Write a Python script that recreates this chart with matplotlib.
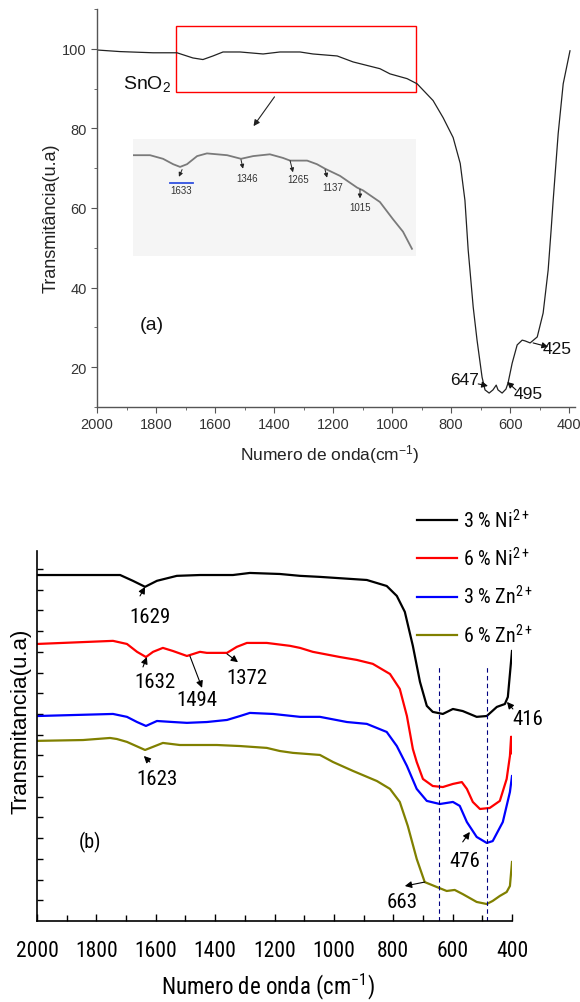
import matplotlib
matplotlib.use('Agg')
import matplotlib.pyplot as plt
from matplotlib.ticker import MultipleLocator
from matplotlib.patches import Rectangle

plt.rcParams['font.family'] = ['Liberation Sans', 'DejaVu Sans']
plt.rcParams['mathtext.fontset'] = 'custom'
plt.rcParams['mathtext.rm'] = 'Liberation Sans'
plt.rcParams['mathtext.it'] = 'Liberation Sans:italic'
plt.rcParams['mathtext.default'] = 'regular'

NARROW = ['Roboto Condensed', 'Liberation Sans', 'DejaVu Sans']

# ---- (a) SnO2 spectrum
wn_a = [2000, 1922, 1810, 1729, 1675, 1641, 1607, 1573, 1515, 1437, 1380, 1312, 1268,
        1186, 1132, 1041, 1007, 949, 915, 861, 827, 793, 769, 753, 742, 736, 725, 712,
        695, 685, 671, 658, 647, 641, 627, 614, 607, 593, 576, 559, 549, 532, 508, 488,
        471, 461, 454, 437, 420, 397]
t_a = [99.7, 99.3, 99.0, 99.0, 97.7, 97.3, 98.2, 99.2, 99.2, 98.7, 99.2, 99.2, 98.7,
       98.2, 96.7, 95.0, 93.7, 92.5, 91.2, 87.0, 82.7, 77.7, 71.2, 61.9, 49.4, 44.4, 35.1,
       26.8, 17.5, 14.3, 13.5, 14.3, 15.5, 14.3, 13.5, 14.5, 16.0, 21.0, 25.6, 26.8, 26.6,
       26.1, 27.6, 33.6, 44.4, 54.4, 61.9, 78.7, 91.2, 99.5]

# inset (zoom of the 1800-820 region)
wn_in = [1800, 1741, 1696, 1661, 1637, 1613, 1578, 1544, 1474, 1426, 1384, 1326, 1281,
         1256, 1197, 1163, 1135, 1083, 1024, 1004, 945, 900, 865, 834]
t_in = [99.2, 99.2, 98.8, 98.2, 97.9, 98.2, 99.1, 99.4, 99.2, 98.8, 99.1, 99.3, 98.9,
        98.6, 98.6, 98.2, 97.7, 96.9, 95.6, 95.3, 94.0, 92.1, 90.7, 88.8]
in_labels = ['1633', '1346', '1265', '1137', '1015']
in_text = [(1634, 95.3), (1405, 96.7), (1229, 96.6), (1107, 95.7), (1014, 93.4)]
in_tail = [(1630, 97.6), (1426, 98.7), (1256, 98.6), (1135, 97.6), (1014, 95.4)]
in_head = [(1641, 96.8), (1419, 97.7), (1246, 97.3), (1128, 96.7), (1014, 94.4)]

a_labels = ['647', '495', '425']
a_text = [(753, 16.8), (539, 13.3), (441, 24.8)]
a_tail = [(708, 15.8), (580, 14.3), (522, 26.1)]
a_head = [(675, 15.3), (610, 16.3), (471, 25.1)]

# ---- (b) doped samples
wn_ni3 = [2000, 1720, 1677, 1636, 1596, 1529, 1451, 1340, 1283, 1182, 1114, 1047, 889, 822,
          788, 761, 734, 710, 687, 667, 633, 599, 566, 519, 485, 451, 424, 414, 400]
t_ni3 = [16.71, 16.71, 16.43, 16.14, 16.43, 16.67, 16.71, 16.71, 16.81, 16.76, 16.67, 16.62,
         16.47, 16.18, 15.70, 14.93, 13.29, 11.55, 10.39, 10.10, 10.0, 10.24, 10.14, 9.86,
         9.90, 10.34, 10.48, 10.82, 13.04]

wn_ni6 = [2000, 1744, 1697, 1663, 1633, 1609, 1576, 1542, 1495, 1451, 1428, 1360, 1327, 1293,
          1226, 1148, 1114, 1071, 980, 923, 869, 811, 778, 754, 734, 721, 700, 667, 633, 599,
          569, 552, 532, 508, 475, 441, 418, 407, 403, 400]
t_ni6 = [13.38, 13.53, 13.38, 13.0, 12.75, 13.0, 13.19, 13.04, 12.8, 13.0, 12.95, 12.95,
         13.24, 13.43, 13.43, 13.29, 13.19, 13.0, 12.75, 12.61, 12.42, 11.93, 11.21, 9.9,
         8.31, 7.68, 6.86, 6.52, 6.47, 6.62, 6.71, 6.38, 5.75, 5.41, 5.46, 5.80, 6.86, 7.97,
         8.9, 8.1]

wn_zn3 = [2000, 1744, 1697, 1663, 1633, 1596, 1542, 1495, 1428, 1360, 1316, 1283, 1205, 1114,
          1047, 956, 889, 822, 788, 754, 721, 687, 643, 599, 576, 552, 519, 485, 465, 431,
          407, 400]
t_zn3 = [9.90, 10.0, 9.86, 9.61, 9.42, 9.66, 9.61, 9.57, 9.61, 9.71, 9.90, 10.05, 10.0, 9.86,
         9.86, 9.61, 9.52, 9.13, 8.45, 7.49, 6.38, 5.80, 5.65, 5.75, 5.56, 4.78, 4.06, 3.77,
         3.86, 4.78, 6.23, 7.0]

wn_zn6 = [2000, 1845, 1754, 1731, 1697, 1636, 1576, 1519, 1394, 1316, 1226, 1182, 1138, 1047,
          1003, 936, 855, 811, 778, 751, 721, 694, 653, 620, 593, 566, 519, 485, 465, 441,
          418, 407, 400]
t_zn6 = [8.70, 8.74, 8.84, 8.79, 8.65, 8.26, 8.6, 8.50, 8.50, 8.45, 8.36, 8.21, 8.12, 8.02,
         7.68, 7.25, 6.76, 6.38, 5.75, 4.59, 3.0, 1.88, 1.64, 1.45, 1.50, 1.30, 0.92, 0.82,
         0.97, 1.21, 1.40, 1.69, 2.85]

b_series = [(wn_ni3, t_ni3, 'black', '3 % Ni$^{2+}$'),
            (wn_ni6, t_ni6, '#ff0000', '6 % Ni$^{2+}$'),
            (wn_zn3, t_zn3, '#0000ff', '3 % Zn$^{2+}$'),
            (wn_zn6, t_zn6, '#808000', '6 % Zn$^{2+}$')]
vlines_b = [646, 485]
vline_top = 12.37

b_labels = ['1629', '1632', '1494', '1372', '1623', '416', '476', '663']
b_text = [(1620, 14.73), (1603, 11.59), (1461, 10.72), (1293, 11.74), (1596, 6.9),
          (347, 9.76), (559, 2.9), (771, 0.92)]
b_tail = [(1653, 15.70), (1643, 12.27), (1485, 12.8), (1360, 12.9), (1620, 7.68),
          (397, 10.24), (566, 3.82), (694, 1.88)]
b_head = [(1636, 16.14), (1630, 12.75), (1444, 11.26), (1323, 12.5), (1640, 7.97),
          (417, 10.58), (542, 4.30), (761, 1.69)]

W, H = 580, 1003
fig = plt.figure(figsize=(W / 100, H / 100), dpi=100)

def box(l, t, r, b):
    return [l / W, 1 - b / H, (r - l) / W, (b - t) / H]

# ================= (a)
ax = fig.add_axes(box(97, 10, 575, 408))
ax.plot(wn_a, t_a, color='#222222', lw=0.9, solid_joinstyle='round')
ax.set_xlim(2000, 380)
ax.set_ylim(10, 110)
ax.set_xticks(range(2000, 399, -200))
ax.set_yticks([20, 40, 60, 80, 100])
ax.xaxis.set_minor_locator(MultipleLocator(100))
ax.yaxis.set_minor_locator(MultipleLocator(10))
for s in ['top', 'right']:
    ax.spines[s].set_visible(False)
for s in ['left', 'bottom']:
    ax.spines[s].set_color('#555555')
    ax.spines[s].set_linewidth(1.0)
ax.tick_params(which='both', direction='out', color='#555555', labelsize=10.5,
               labelcolor='#333333')
ax.tick_params(which='major', length=4)
ax.tick_params(which='minor', length=2.5)

ax.add_patch(Rectangle((1732, 89.25), 919 - 1732, 105.75 - 89.25, fill=False,
                       edgecolor='#ff0000', lw=1.0, clip_on=False))
ax.annotate('', xy=(1475, 80.0), xytext=(1393, 88.5),
            arrowprops=dict(arrowstyle='-|>', color='#222222', lw=0.8, mutation_scale=9))
ax.text(1912, 91.5, 'SnO$_2$', fontsize=14, va='center', ha='left', color='#111111')
ax.text(1814, 30.8, '(a)', fontsize=14, va='center', ha='center', color='#111111')
for lab, tp, tl, hd in zip(a_labels, a_text, a_tail, a_head):
    ax.annotate('', xy=hd, xytext=tl,
                arrowprops=dict(arrowstyle='-|>', color='#111111', lw=0.8, mutation_scale=9,
                                shrinkA=0, shrinkB=0))
    ax.text(tp[0], tp[1], lab, fontsize=12.5, ha='center', va='center', color='#111111')

fig.text(51 / W, 1 - 218 / H, 'Transmitância(u.a)', rotation=90, fontsize=13,
         ha='center', va='center', color='#222222')
fig.text(330 / W, 1 - 455 / H, 'Numero de onda(cm$^{-1}$)', fontsize=12.5,
         ha='center', va='center', color='#222222')

# inset
axi = fig.add_axes(box(133, 140, 416, 257))
axi.set_facecolor('#f5f5f5')
axi.plot(wn_in, t_in, color='#7a7a7a', lw=1.3, solid_joinstyle='round')
axi.set_xlim(1800, 820)
axi.set_ylim(88, 101)
axi.set_xticks([])
axi.set_yticks([])
for s in axi.spines.values():
    s.set_visible(False)
for lab, tp, tl, hd in zip(in_labels, in_text, in_tail, in_head):
    axi.annotate('', xy=hd, xytext=tl,
                 arrowprops=dict(arrowstyle='-|>', color='#222222', lw=0.7, mutation_scale=6,
                                 shrinkA=0, shrinkB=0))
    axi.text(tp[0], tp[1], lab, fontsize=7, ha='center', va='center', color='#333333')
axi.plot([1672, 1592], [96.1, 96.1], color='#3050e0', lw=1.3)

# ================= (b)
bx = fig.add_axes(box(37, 552, 512, 922))
handles = []
for wn, t, c, lab in b_series:
    h, = bx.plot(wn, t, color=c, lw=1.6, label=lab, solid_joinstyle='round')
    handles.append(h)
for v in vlines_b:
    bx.plot([v, v], [0, vline_top], color='#000080', lw=0.8, ls=(0, (4, 3)))
bx.set_xlim(2000, 400)
bx.set_ylim(0, 17.87)
bx.set_xticks(range(2000, 399, -200))
bx.xaxis.set_minor_locator(MultipleLocator(100))
bx.set_yticks(range(1, 18))
bx.set_yticklabels([])
for s in ['top', 'right']:
    bx.spines[s].set_visible(False)
for s in ['left', 'bottom']:
    bx.spines[s].set_linewidth(1.2)
bx.tick_params(which='both', direction='in', width=1.0)
bx.tick_params(axis='x', which='major', length=5, pad=14)
bx.tick_params(axis='x', which='minor', length=4)
bx.tick_params(axis='y', which='major', length=4)
for lbl in bx.get_xticklabels():
    lbl.set_family(NARROW)
    lbl.set_fontsize(15.5)

for lab, tp, tl, hd in zip(b_labels, b_text, b_tail, b_head):
    bx.annotate('', xy=hd, xytext=tl, annotation_clip=False,
                arrowprops=dict(arrowstyle='-|>', color='black', lw=0.8, mutation_scale=10,
                                shrinkA=0, shrinkB=0))
    bx.text(tp[0], tp[1], lab, fontsize=15, ha='center', va='center', family=NARROW,
            clip_on=False)
bx.text(1822, 3.82, '(b)', fontsize=14.5, ha='center', va='center', family=NARROW)

fig.text(21 / W, 1 - 721 / H, 'Transmitancia(u.a)', rotation=90, fontsize=16,
         ha='center', va='center')
fig.text(268 / W, 1 - 987 / H, 'Numero de onda (cm$^{-1}$)', fontsize=16.5,
         ha='center', va='center', family=NARROW)

fig.legend(handles=handles, loc='upper left', bbox_to_anchor=(417 / W, 1 - 509 / H),
           frameon=False, prop={'family': NARROW, 'size': 14.5}, handlelength=2.0,
           handletextpad=0.3, labelspacing=0.75, borderpad=0, borderaxespad=0)

fig.savefig('out.png', dpi=100)
